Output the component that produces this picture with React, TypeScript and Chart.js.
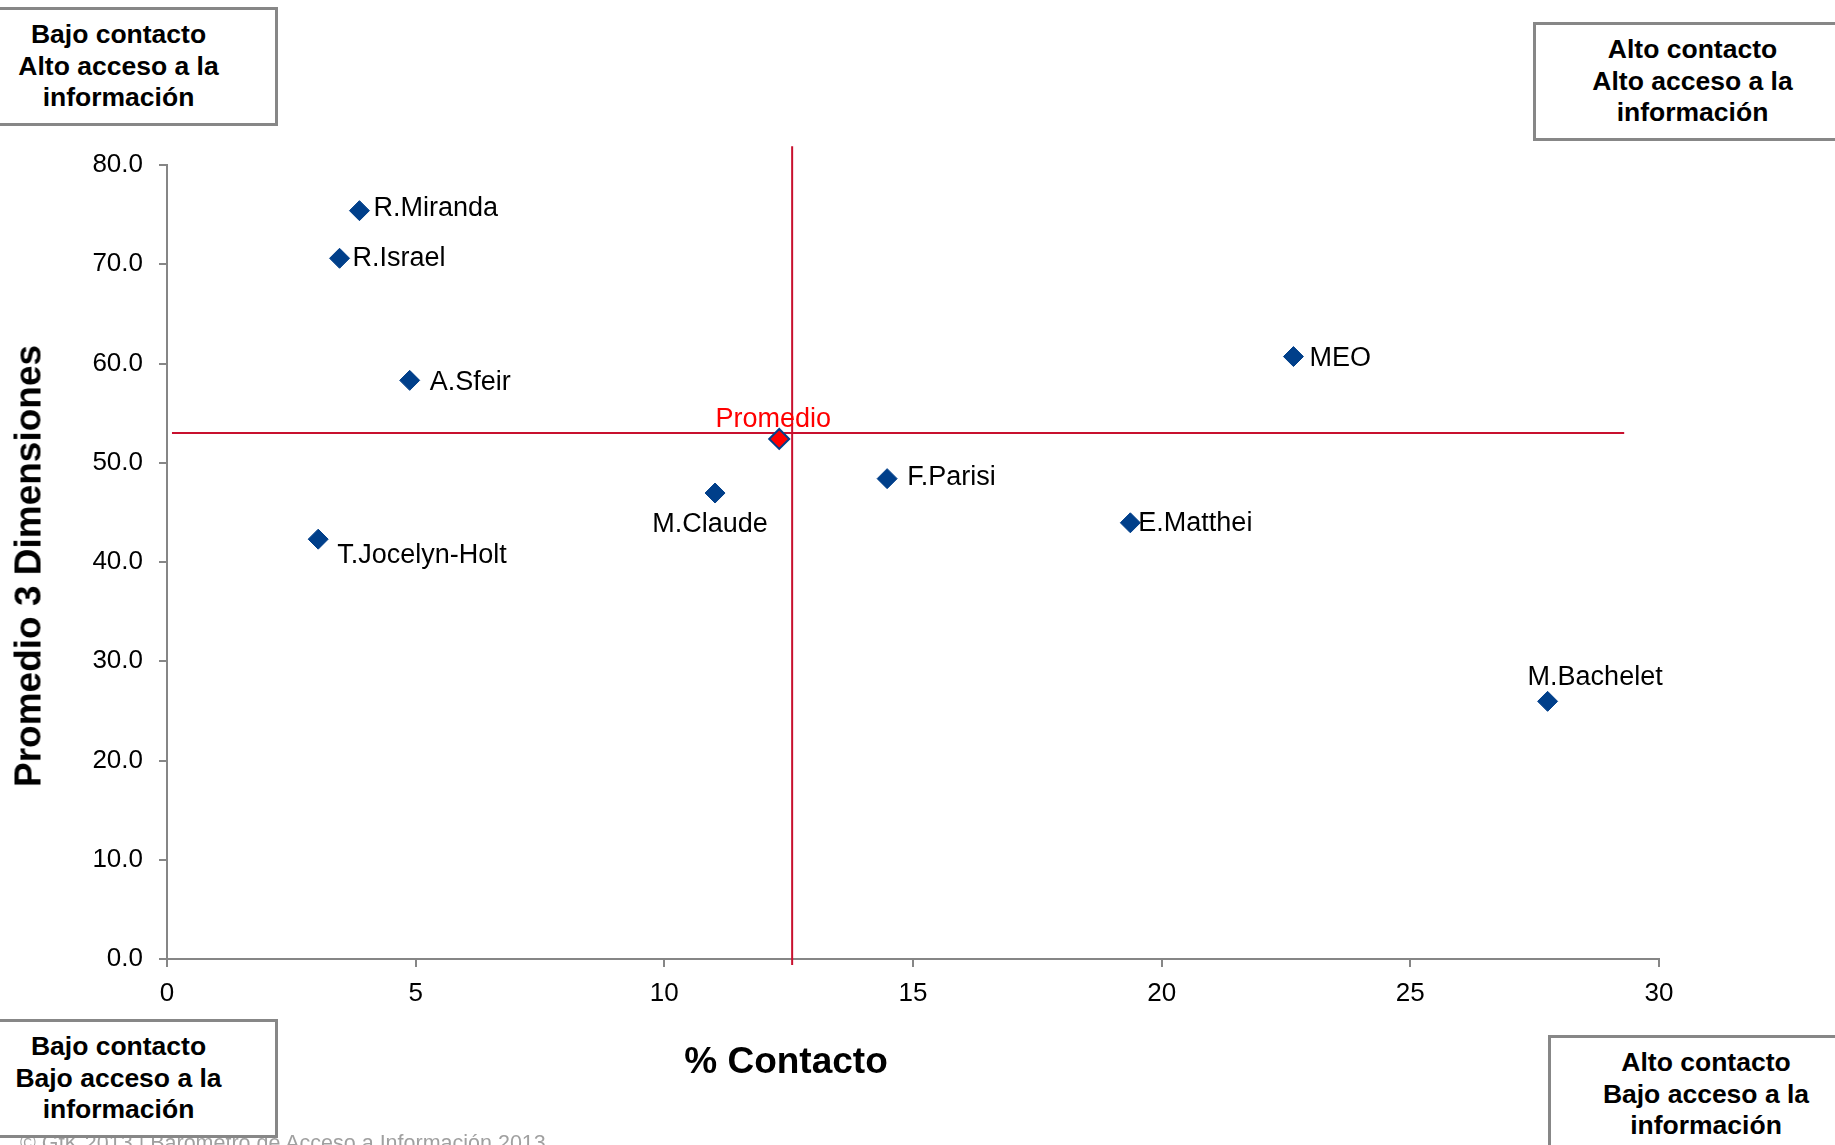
import React, { useEffect, useRef } from 'react';
import { Chart, registerables } from 'chart.js';

Chart.register(...registerables);

// ---- Data ----
const candidateNames = ['R.Miranda', 'R.Israel', 'A.Sfeir', 'M.Claude', 'F.Parisi', 'E.Matthei', 'T.Jocelyn-Holt', 'MEO', 'M.Bachelet'];
const contactoValues = [3.87, 3.47, 4.88, 11.02, 14.48, 19.37, 3.04, 22.65, 27.76];
const dimensionValues = [75.4, 70.6, 58.3, 46.95, 48.4, 43.95, 42.3, 60.7, 25.96];

const promedioName = 'Promedio';
const promedioContacto = [12.31];
const promedioDimension = [52.4];

// reference (average) lines
const vLineX = [12.57, 12.57];
const vLineY = [-0.6, 81.9];
const hLineX = [0.1, 29.3];
const hLineY = [53.0, 53.0];

const xMin = 0;
const xMax = 30;
const xStep = 5;
const yMin = 0;
const yMax = 80;
const yStep = 10;

const xTitle = '% Contacto';
const yTitle = 'Promedio 3 Dimensiones';
const quadrantTL = ['Bajo contacto', 'Alto acceso a la', 'información'];
const quadrantTR = ['Alto contacto', 'Alto acceso a la', 'información'];
const quadrantBL = ['Bajo contacto', 'Bajo acceso a la', 'información'];
const quadrantBR = ['Alto contacto', 'Bajo acceso a la', 'información'];
const footerText = '© GfK 2013 | Barómetro de Acceso a Información 2013';

// ---- Styles (label placement relative to each point, in px) ----
const labelStyle: { dx: number; dy: number; align: CanvasTextAlign }[] = [
  { dx: 14, dy: -2, align: 'left' },
  { dx: 13, dy: 0, align: 'left' },
  { dx: 20, dy: 2, align: 'left' },
  { dx: -5, dy: 32, align: 'center' },
  { dx: 20, dy: -1, align: 'left' },
  { dx: 8, dy: 1, align: 'left' },
  { dx: 19, dy: 16, align: 'left' },
  { dx: 16, dy: 2, align: 'left' },
  { dx: -20, dy: -24, align: 'left' },
];
const promedioLabelStyle = { dx: -6, dy: -19, align: 'center' as CanvasTextAlign };

const FONT = '"Liberation Sans", Arial, Helvetica, sans-serif';
const BLUE = '#003f8a';
const LINE_RED = '#c8102e';
const AXIS_GREY = '#868686';

const labelPlugin = {
  id: 'pointLabels',
  afterDatasetsDraw(chart: any) {
    const ctx = chart.ctx;
    ctx.save();
    ctx.font = `27px ${FONT}`;
    ctx.textBaseline = 'middle';
    const meta = chart.getDatasetMeta(0);
    meta.data.forEach((pt: any, i: number) => {
      const st = labelStyle[i];
      ctx.fillStyle = '#000';
      ctx.textAlign = st.align;
      ctx.fillText(candidateNames[i], pt.x + st.dx, pt.y + st.dy);
    });
    const pm = chart.getDatasetMeta(1).data[0];
    if (pm) {
      ctx.fillStyle = '#ff0000';
      ctx.textAlign = promedioLabelStyle.align;
      ctx.fillText(promedioName, pm.x + promedioLabelStyle.dx, pm.y + promedioLabelStyle.dy);
    }
    ctx.restore();
  },
};

function QuadBox({ lines, left, top, width }: { lines: string[]; left: number; top: number; width: number }) {
  return (
    <div
      style={{
        position: 'absolute',
        left,
        top,
        width,
        height: 119,
        boxSizing: 'border-box',
        border: '3px solid #878787',
        background: '#fff',
        paddingTop: 9,
        textAlign: 'center',
        fontFamily: FONT,
        fontWeight: 'bold',
        fontSize: 26.5,
        lineHeight: '31.5px',
        color: '#000',
        zIndex: 2,
      }}
    >
      {lines.map((l, i) => (
        <div key={i}>{l}</div>
      ))}
    </div>
  );
}

export default function App() {
  const canvasRef = useRef<HTMLCanvasElement | null>(null);

  useEffect(() => {
    if (!canvasRef.current) return;
    const chart = new Chart(canvasRef.current, {
      type: 'scatter',
      data: {
        datasets: [
          {
            label: 'Candidatos',
            data: contactoValues.map((x, i) => ({ x, y: dimensionValues[i] })),
            pointStyle: 'rectRot',
            pointRadius: 10,
            pointHoverRadius: 10,
            backgroundColor: BLUE,
            borderColor: BLUE,
            borderWidth: 1,
            order: 0,
          },
          {
            label: promedioName,
            data: promedioContacto.map((x, i) => ({ x, y: promedioDimension[i] })),
            pointStyle: 'rectRot',
            pointRadius: 10,
            pointHoverRadius: 10,
            backgroundColor: '#ff0000',
            borderColor: BLUE,
            borderWidth: 2,
            order: 0,
          },
          {
            type: 'line',
            label: 'vline',
            data: vLineX.map((x, i) => ({ x, y: vLineY[i] })),
            borderColor: LINE_RED,
            borderWidth: 2,
            pointRadius: 0,
            showLine: true,
            fill: false,
            clip: false,
            order: 2,
          } as any,
          {
            type: 'line',
            label: 'hline',
            data: hLineX.map((x, i) => ({ x, y: hLineY[i] })),
            borderColor: LINE_RED,
            borderWidth: 2,
            pointRadius: 0,
            showLine: true,
            fill: false,
            clip: false,
            order: 2,
          } as any,
        ],
      },
      options: {
        animation: false,
        responsive: false,
        devicePixelRatio: 1,
        layout: { padding: { left: 0, top: 165, right: 176, bottom: 0 } },
        plugins: {
          legend: { display: false },
          tooltip: { enabled: false },
        },
        scales: {
          x: {
            type: 'linear',
            min: xMin,
            max: xMax,
            afterFit: (scale: any) => {
              scale.height = 186;
            },
            ticks: {
              stepSize: xStep,
              color: '#000',
              font: { family: FONT, size: 26 },
              padding: 11,
            },
            grid: {
              drawOnChartArea: false,
              drawTicks: true,
              tickLength: 8,
              color: AXIS_GREY,
              lineWidth: 2,
            },
            border: { display: true, color: AXIS_GREY, width: 2 },
          },
          y: {
            type: 'linear',
            min: yMin,
            max: yMax,
            afterFit: (scale: any) => {
              scale.width = 167;
            },
            ticks: {
              stepSize: yStep,
              color: '#000',
              font: { family: FONT, size: 26 },
              padding: 16,
              callback: (v: any) => Number(v).toFixed(1),
            },
            grid: {
              drawOnChartArea: false,
              drawTicks: true,
              tickLength: 8,
              color: AXIS_GREY,
              lineWidth: 2,
            },
            border: { display: true, color: AXIS_GREY, width: 2 },
          },
        },
      },
      plugins: [labelPlugin],
    } as any);
    return () => chart.destroy();
  }, []);

  return (
    <div
      style={{
        position: 'absolute',
        left: 0,
        top: 0,
        width: 1835,
        height: 1145,
        overflow: 'hidden',
        background: '#fff',
      }}
    >
      <canvas ref={canvasRef} width={1835} height={1145} style={{ position: 'absolute', left: 0, top: 0, width: 1835, height: 1145 }} />
      <div
        style={{
          position: 'absolute',
          left: 28,
          top: 566,
          transform: 'translate(-50%, -50%) rotate(-90deg)',
          whiteSpace: 'nowrap',
          fontFamily: FONT,
          fontWeight: 'bold',
          fontSize: 37,
          lineHeight: '37px',
          color: '#000',
        }}
      >
        {yTitle}
      </div>
      <div
        style={{
          position: 'absolute',
          left: 786 - 200,
          width: 400,
          top: 1042,
          textAlign: 'center',
          fontFamily: FONT,
          fontWeight: 'bold',
          fontSize: 37,
          lineHeight: '37px',
          color: '#000',
        }}
      >
        {xTitle}
      </div>
      <div
        style={{
          position: 'absolute',
          left: 20,
          top: 1133,
          whiteSpace: 'nowrap',
          fontFamily: FONT,
          fontSize: 21.5,
          lineHeight: '21px',
          color: '#a0a0a0',
          zIndex: 1,
        }}
      >
        {footerText}
      </div>
      <QuadBox lines={quadrantTL} left={-41} top={7} width={319} />
      <QuadBox lines={quadrantTR} left={1533} top={22} width={319} />
      <QuadBox lines={quadrantBL} left={-41} top={1019} width={319} />
      <QuadBox lines={quadrantBR} left={1548} top={1035} width={316} />
    </div>
  );
}
